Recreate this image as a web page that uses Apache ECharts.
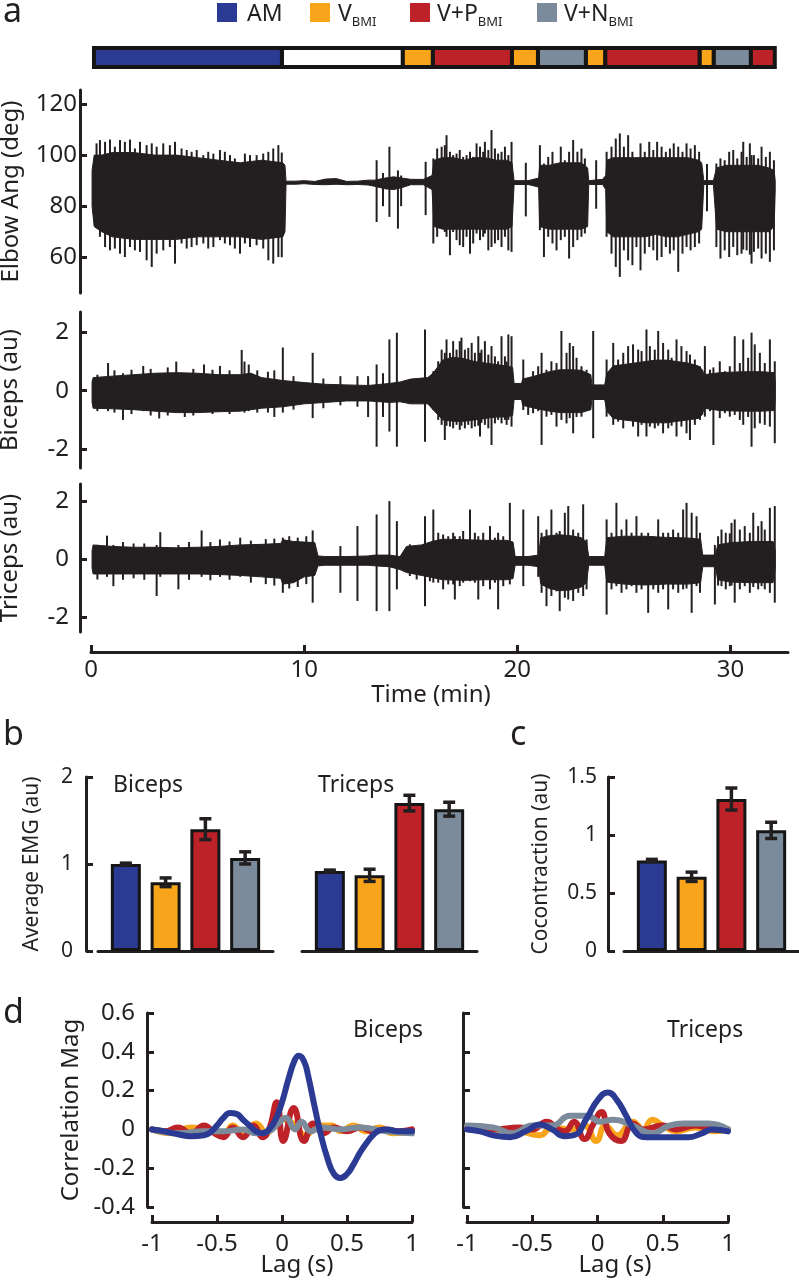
<!DOCTYPE html>
<html><head><meta charset="utf-8">
<script src="https://cdn.jsdelivr.net/npm/echarts@6/dist/echarts.min.js"></script>
<style>html,body{margin:0;padding:0;background:#fff}#c{width:799px;height:1280px}</style>
</head><body><div id="c"></div>
<script>
const INK = '#231f20';
const FONT = 'Noto Sans';

// ---------- conditions ----------
const condNames = ['AM', 'V', 'V+P', 'V+N', 'none'];
const condColors = ['#2b3a93', '#f9a51c', '#bc2228', '#7b8b9b', '#ffffff'];

// condition timeline (min)
const segStart = [0.14, 8.96, 14.63, 16.04, 19.75, 20.97, 23.22, 24.13, 28.56, 29.22, 30.96];
const segEnd   = [8.96, 14.63, 16.04, 19.75, 20.97, 23.22, 24.13, 28.56, 29.22, 30.96, 32.08];
const segCond  = ['AM', 'none', 'V', 'V+P', 'V', 'V+N', 'V', 'V+P', 'V', 'V+N', 'V+P'];

// ---------- panel a ticks ----------
const timeTicks = [0, 10, 20, 30];
const elbowTicks = [60, 80, 100, 120];
const emgTicks = [-2, 0, 2];

// solid part of each trace: [time(min), low, high]
const elbowEnv = [[0.05,80,94],[0.15,72,100],[0.5,70,100],[1,68,101],[2,67,101],[3,67,100],[4,67,100],[5,68,99],[6,68,98],[7,68,97],[8,67,98],[9,68,97],[9.1,70,96],[9.15,88.6,89.8],[9.6,88.6,89.8],[10,88.8,90],[10.5,88.5,89.7],[11,88.4,90.6],[11.5,88.6,90.8],[12,88.4,89.7],[12.5,88.5,89.8],[13,88.3,90.2],[13.3,87.8,90.2],[13.8,86.8,91],[14.2,86.5,91.5],[14.6,87.3,91],[15,88.4,90.5],[15.6,88.4,90.5],[16,86.5,92],[16.1,72,98],[16.5,71,99],[17,71,99],[17.5,71,98],[18,71,99],[18.5,71,99],[19,71,98],[19.5,71,98],[19.75,72,97],[19.85,88.5,90],[20.5,88.5,90],[21,87.5,91],[21.05,72,96],[21.5,71,96],[22,71,97],[22.5,71,97],[23,71,97],[23.3,72,95],[23.35,88.5,90],[24,88.5,90.5],[24.15,86.5,92],[24.2,70,98],[24.5,68,99],[25,68,99],[25.5,68,99],[26,68,99],[26.5,69,99],[27,68,99],[27.5,68,99],[28,69,99],[28.5,70,98],[28.65,71,97],[28.75,88.5,90],[29.2,88.5,90],[29.35,71,95],[29.8,70,96],[30.3,70,96],[30.8,70,96],[31.3,70,96],[31.8,70,95],[32.05,72,94],[32.1,86,90]];
// individual excursions: [time(min), low, high]
const elbowSpikes = [[0.26,71.9,104.6],[0.42,68,105.9],[0.66,64,105.2],[0.89,62.7,106.1],[1.12,63.4,103.3],[1.36,61.4,105.9],[1.59,60.1,105.2],[1.83,64,106.1],[2.06,62.7,102.6],[2.3,62.1,105.2],[2.61,58.8,103.9],[2.85,56.2,104.6],[3.08,61.4,103.3],[3.39,62.7,104.6],[3.7,64,103.9],[3.94,57.5,105.2],[4.25,65.4,102.6],[4.49,63.4,102],[4.72,64,101.3],[4.96,64.7,102],[5.27,65.4,100],[5.5,63.4,101.3],[5.74,64,100.6],[6.05,66.7,102],[6.28,65.4,101.3],[6.52,64.7,100],[6.75,63.4,98.7],[6.99,61.4,94.1],[7.22,65.4,100.6],[7.46,64,100],[7.77,64.7,100],[8.08,63.4,100.6],[8.32,58.8,101.3],[8.55,57.5,102.6],[8.79,60.1,103.9],[8.95,60,101],
  [13.4,73.8,98],[13.7,80,93],[14.0,75.8,103.3],[14.4,71.2,94],[14.55,80,92],[15.7,76.5,97.4],
  [16.06,65.4,98.7],[16.24,68,102.6],[16.45,71.9,103.3],[16.6,69.9,103.9],[16.68,68,107.8],[16.84,60.8,101.3],[16.99,69.9,100],[17.15,66.7,100.6],[17.3,64.7,102],[17.46,64,99.3],[17.62,68,100],[17.78,61.4,101.3],[17.93,65.4,99.3],[18.09,69.3,104.6],[18.25,66.7,103.3],[18.4,68,101.3],[18.48,69.3,105.2],[18.64,62.7,102],[18.79,64,109.8],[18.95,65.4,102.6],[19.1,66.7,100.6],[19.26,64,101.3],[19.42,68,103.3],[19.58,62.7,100],[19.73,62.1,105.2],
  [20.4,76,97],
  [21.06,70.6,103.9],[21.25,60.1,96.7],[21.45,68,99.3],[21.65,65.4,101.3],[21.84,62.7,96.7],[22.04,66.7,103.3],[22.23,68,98],[22.43,59.5,101.3],[22.62,64,105.9],[22.82,66.7,101.3],[23.01,68,102.6],[23.17,69.3,98.7],
  [23.7,79,98],
  [24.19,68,101.3],[24.42,61.4,103.3],[24.62,56.2,106.5],[24.81,52.3,108.5],[25.0,62.7,103.3],[25.2,58.8,107.8],[25.4,56.9,101.3],[25.59,64,98.7],[25.78,54.9,104.6],[25.98,61.4,101.3],[26.19,64,105.2],[26.38,62.7,102],[26.56,58.8,105.2],[26.77,60.1,103.3],[26.97,64,101.3],[27.16,61.4,102.6],[27.34,62.7,104.6],[27.55,54.3,103.3],[27.75,61.4,101.3],[27.94,64,104.6],[28.13,62.7,102.6],[28.33,64,103.9],[28.53,65.4,101.3],
  [28.9,78,96.5],
  [29.34,64,96.7],[29.53,59.5,98.7],[29.73,62.7,98],[29.94,60.1,101.3],[30.13,64,102],[30.32,60.8,98.7],[30.52,61.4,101.3],[30.6,63,105.2],[30.76,62.7,99.3],[30.91,61,104.6],[30.99,57.5,100],[31.1,62.1,100],[31.3,63.4,98.7],[31.46,59.5,103.3],[31.66,61.4,99.3],[31.85,58.2,101.3],[32.04,62.7,98]];

const bicepsEnv = [[0.05,-0.4,0.3],[0.1,-0.6,0.45],[1,-0.62,0.5],[2,-0.65,0.55],[3,-0.7,0.6],[4,-0.75,0.62],[5,-0.75,0.6],[6,-0.72,0.55],[7,-0.7,0.55],[7.5,-0.65,0.6],[8,-0.6,0.45],[9,-0.55,0.35],[10,-0.45,0.28],[11,-0.4,0.22],[12,-0.35,0.2],[13,-0.35,0.18],[14,-0.4,0.25],[14.5,-0.38,0.3],[15,-0.45,0.4],[15.8,-0.45,0.45],[16.05,-0.65,0.6],[16.5,-1.0,1.05],[17,-1.05,1.15],[17.5,-1.05,1.1],[18,-1.0,1.0],[18.5,-0.95,0.95],[19,-0.9,0.9],[19.5,-0.9,0.85],[19.78,-0.85,0.8],[19.85,-0.3,0.25],[20.2,-0.3,0.25],[20.25,-0.5,0.4],[20.8,-0.6,0.5],[21.5,-0.7,0.65],[22,-0.75,0.72],[22.5,-0.75,0.72],[23,-0.75,0.7],[23.45,-0.65,0.55],[23.5,-0.3,0.2],[24.1,-0.3,0.2],[24.2,-0.7,0.6],[24.5,-0.95,0.85],[25,-1.0,0.9],[25.5,-1.05,0.95],[26,-1.1,1.0],[26.5,-1.1,1.05],[27,-1.1,1.05],[27.5,-1.05,1.0],[28,-1.0,0.95],[28.5,-0.95,0.85],[28.7,-0.8,0.7],[28.75,-0.6,0.55],[29.5,-0.68,0.62],[30.5,-0.7,0.65],[31.5,-0.7,0.65],[32.05,-0.68,0.62],[32.1,-0.3,0.3]];
const bicepsSpikes = [[0.3,-0.7,0.55],[0.8,-0.7,0.95],[1.1,-0.75,0.7],[1.5,-1.0,0.6],[1.9,-0.8,0.72],[2.45,-0.7,0.85],[2.8,-0.85,0.75],[3.2,-0.95,0.6],[3.6,-0.85,0.8],[4.0,-0.75,1.0],[4.4,-0.9,0.6],[4.8,-0.85,0.75],[5.3,-0.7,0.9],[5.7,-0.8,0.72],[6.05,-0.7,0.85],[6.5,-0.8,0.7],[7.07,-0.6,1.4],[7.2,-0.75,1.0],[7.4,-0.7,0.9],[7.8,-0.75,0.7],[8.3,-0.75,0.65],[8.6,-0.9,0.7],[9.0,-0.75,1.48],[9.5,-0.65,0.5],[10.4,-0.94,1.3],[10.9,-0.6,0.42],[11.7,-0.5,0.5],[12.5,-0.55,0.5],[13.0,-0.9,0.5],[13.4,-1.92,0.9],[13.7,-0.9,0.6],[14.0,-1.4,1.76],[14.35,-1.92,1.99],[15.67,-1.75,2.1],
  [16.06,-0.66,0.67],[16.29,-1.0,1.01],[16.45,-1.17,1.41],[16.6,-1.69,1.3],[16.68,-1.2,1.76],[16.84,-1.23,1.3],[16.99,-1.29,1.7],[17.15,-1.17,1.41],[17.3,-1.34,1.7],[17.38,-1.2,1.82],[17.54,-1.29,1.41],[17.7,-1.17,1.47],[17.86,-1.29,1.64],[18.01,-1.23,1.3],[18.17,-1.2,1.87],[18.25,-1.57,1.3],[18.32,-1.1,1.41],[18.48,-1.17,1.7],[18.64,-1.29,1.24],[18.79,-1.86,1.53],[18.95,-1.12,1.18],[19.1,-1.0,1.01],[19.26,-1.12,1.87],[19.42,-1.0,1.18],[19.5,-1.17,1.0],[19.58,-1.0,1.93],[19.73,-1.23,1.87],
  [20.28,-0.66,1.07],[20.51,-0.83,0.38],[20.74,-0.77,0.67],[20.98,-0.7,0.84],[21.14,-1.86,1.3],[21.37,-0.89,0.72],[21.6,-0.83,1.01],[21.84,-1.23,0.95],[22.07,-1.0,2.05],[22.31,-1.12,1.3],[22.46,-0.94,1.64],[22.62,-1.46,1.53],[22.78,-0.9,1.13],[23.01,-0.89,0.84],[23.25,-0.66,0.72],[23.56,-1.63,2.05],
  [24.19,-0.89,1.07],[24.5,-1.17,1.64],[24.73,-1.06,1.07],[24.97,-1.29,1.3],[25.2,-0.94,1.53],[25.43,-1.23,1.59],[25.67,-1.57,1.41],[25.83,-1.17,1.36],[26.06,-1.57,2.1],[26.22,-1.23,1.53],[26.45,-1.29,1.41],[26.61,-1.2,2.05],[26.84,-1.46,1.64],[27.08,-1.29,1.41],[27.24,-1.2,1.13],[27.47,-1.57,1.76],[27.7,-1.23,1.53],[27.94,-1.46,1.36],[28.1,-1.69,1.24],[28.33,-1.17,1.07],[28.57,-1.0,0.84],
  [28.8,-0.89,1.53],[29.04,-0.7,0.72],[29.2,-1.86,0.8],[29.5,-0.94,1.01],[29.74,-0.77,0.67],[29.97,-0.89,0.84],[30.2,-0.83,1.87],[30.44,-1.0,0.95],[30.6,-1.17,1.76],[30.83,-0.9,1.13],[30.99,-1.92,1.99],[31.14,-1.29,1.59],[31.38,-1.12,1.3],[31.61,-1.17,0.95],[31.85,-1.23,1.76],[32.08,-1.8,1.01]];

const tricepsEnv = [[0.05,-0.3,0.3],[0.1,-0.5,0.5],[1,-0.5,0.45],[2,-0.5,0.42],[3,-0.5,0.42],[4,-0.5,0.4],[5,-0.5,0.42],[6,-0.52,0.45],[7,-0.55,0.5],[8,-0.6,0.52],[8.9,-0.65,0.55],[9.0,-0.85,0.68],[9.5,-0.8,0.62],[10.0,-0.6,0.6],[10.5,-0.55,0.58],[10.65,-0.22,0.12],[11,-0.2,0.1],[12,-0.2,0.1],[13,-0.2,0.12],[13.3,-0.22,0.15],[14,-0.25,0.15],[14.5,-0.35,0.1],[14.8,-0.45,0.45],[15.5,-0.55,0.5],[16,-0.62,0.62],[16.5,-0.7,0.7],[17.5,-0.72,0.68],[18.5,-0.7,0.66],[19.5,-0.7,0.66],[19.8,-0.66,0.6],[19.9,-0.2,0.1],[20.5,-0.2,0.1],[21.0,-0.25,0.15],[21.1,-0.85,0.75],[21.5,-1.0,0.82],[22,-1.08,0.85],[22.5,-1.05,0.82],[23.0,-0.95,0.75],[23.25,-0.8,0.6],[23.35,-0.2,0.1],[24.1,-0.2,0.1],[24.2,-0.78,0.75],[25,-0.85,0.8],[26,-0.88,0.8],[27,-0.85,0.76],[28,-0.85,0.74],[28.6,-0.8,0.7],[28.7,-0.25,0.15],[29.3,-0.25,0.15],[29.4,-0.7,0.5],[30,-0.78,0.58],[31,-0.8,0.62],[32,-0.8,0.62],[32.1,-0.3,0.3]];
const tricepsSpikes = [[0.3,-0.69,0.5],[0.75,-0.6,0.82],[1.05,-0.92,0.5],[1.5,-0.7,0.6],[2.0,-0.65,0.55],[2.5,-0.7,0.55],[3.08,-1.26,0.5],[3.25,-0.6,0.94],[4.1,-1.03,0.5],[4.6,-0.7,0.6],[5.19,-0.6,1.0],[5.6,-0.72,0.6],[6.05,-0.6,0.69],[6.5,-0.7,0.62],[7.0,-0.6,0.75],[7.5,-0.8,0.65],[8.2,-0.85,0.7],[8.6,-0.9,0.72],[9.0,-1.15,0.75],[9.3,-1.0,0.8],[9.7,-0.95,0.75],[10.1,-0.85,0.8],[10.4,-1.49,1.0],[11.7,-1.15,0.46],[12.5,-1.43,1.15],[13.4,-1.78,1.55],[14.0,-1.78,2.01],[14.35,-1.03,1.32],
  [14.96,-0.57,0.52],[15.28,-0.69,0.46],[15.67,-1.61,1.49],[15.9,-0.75,0.57],[16.06,-0.8,1.72],[16.29,-0.8,0.92],[16.52,-1.03,0.86],[16.76,-0.86,0.8],[16.99,-0.86,0.92],[17.07,-1.38,0.8],[17.3,-0.92,0.8],[17.46,-0.8,0.98],[17.78,-0.75,1.72],[18.01,-0.8,0.92],[18.17,-1.38,0.8],[18.4,-0.92,0.92],[18.72,-1.03,1.15],[18.95,-0.8,0.75],[19.1,-1.72,0.92],[19.34,-0.92,0.8],[19.65,-0.86,1.95],
  [20.28,-0.92,1.72],[20.98,-0.6,1.49],[21.14,-1.15,0.92],[21.37,-1.61,1.03],[21.6,-1.26,1.72],[21.84,-1.1,0.92],[21.99,-1.78,0.98],[22.23,-1.32,1.61],[22.39,-1.38,1.84],[22.62,-1.43,1.03],[22.86,-1.15,0.92],[23.09,-1.26,1.9],[23.25,-1.03,0.69],
  [24.19,-1.9,1.38],[24.42,-1.03,0.92],[24.65,-0.92,1.95],[24.89,-1.15,1.03],[25.12,-1.03,1.38],[25.36,-0.92,0.92],[25.59,-1.15,1.49],[25.83,-1.03,0.92],[26.14,-1.84,0.92],[26.38,-1.03,0.8],[26.61,-1.15,1.38],[26.84,-1.03,0.92],[27.08,-1.72,0.92],[27.31,-1.03,1.03],[27.55,-1.15,0.92],[27.78,-1.03,1.72],[27.94,-1.0,1.95],[28.18,-1.84,1.61],[28.41,-0.92,1.49],[28.57,-1.15,0.92],
  [29.27,-1.55,0.5],[29.42,-0.9,0.8],[29.58,-0.92,1.03],[29.78,-1.03,0.92],[29.97,-0.92,0.9],[30.05,-0.9,1.26],[30.2,-1.49,1.38],[30.44,-1.03,1.03],[30.67,-0.92,1.15],[30.91,-1.15,0.92],[31.07,-0.95,1.61],[31.3,-1.03,1.15],[31.46,-0.92,1.32],[31.61,-1.03,1.03],[31.85,-1.15,1.78],[32.08,-1.49,1.84]];

// ---------- panel b / c ----------
const barPos = [1, 2, 3, 4];
const bicepsEMG = [1.00, 0.79, 1.40, 1.07];
const bicepsErr = [0.01, 0.05, 0.12, 0.07];
const tricepsEMG = [0.92, 0.87, 1.70, 1.63];
const tricepsErr = [0.01, 0.07, 0.09, 0.08];
const cocon = [0.78, 0.64, 1.31, 1.04];
const coconErr = [0.01, 0.04, 0.095, 0.07];
const emgBarTicks = [0, 1, 2];
const coconTicks = [0, 0.5, 1, 1.5];

// ---------- panel d ----------
const lagTicks = [-1, -0.5, 0, 0.5, 1];
const corrTicks = [-0.4, -0.2, 0, 0.2, 0.4, 0.6];
const corrBicAM = [[-1,0],[-0.9,-0.01],[-0.8,-0.025],[-0.7,-0.035],[-0.6,-0.03],[-0.55,-0.015],[-0.5,0.02],[-0.45,0.06],[-0.4,0.085],[-0.35,0.08],[-0.3,0.05],[-0.25,0.02],[-0.2,-0.01],[-0.15,-0.02],[-0.1,0.0],[-0.05,0.05],[0,0.14],[0.05,0.26],[0.1,0.36],[0.13,0.38],[0.17,0.35],[0.2,0.28],[0.25,0.12],[0.3,-0.03],[0.35,-0.15],[0.4,-0.23],[0.45,-0.25],[0.5,-0.23],[0.55,-0.18],[0.6,-0.12],[0.65,-0.07],[0.7,-0.03],[0.75,-0.005],[0.8,0],[0.9,-0.01],[1,-0.01]];
const corrBicV = [[-1,0],[-0.85,-0.02],[-0.7,0.01],[-0.55,-0.01],[-0.45,-0.035],[-0.38,0.02],[-0.3,-0.02],[-0.2,0.03],[-0.12,-0.02],[-0.05,0.05],[0.03,0.05],[0.1,0.02],[0.18,-0.03],[0.28,0.02],[0.38,0.02],[0.45,-0.01],[0.55,0.02],[0.65,-0.01],[0.75,0.01],[0.85,-0.02],[1,-0.01]];
const corrBicVP = [[-1,0],[-0.9,-0.01],[-0.8,0.01],[-0.7,-0.02],[-0.6,0.02],[-0.52,-0.02],[-0.45,-0.04],[-0.38,0.01],[-0.3,-0.04],[-0.22,0.02],[-0.15,-0.04],[-0.1,0.0],[-0.04,0.14],[0.01,-0.06],[0.09,0.11],[0.17,-0.06],[0.24,0.03],[0.32,-0.02],[0.4,0.01],[0.5,-0.01],[0.6,0.01],[0.7,-0.01],[0.8,0],[0.9,-0.01],[1,0]];
const corrBicVN = [[-1,0],[-0.8,-0.02],[-0.6,-0.01],[-0.45,-0.01],[-0.3,0],[-0.2,-0.02],[-0.1,-0.01],[-0.03,0.03],[0.03,0.06],[0.1,0],[0.15,0.04],[0.22,-0.01],[0.3,0.01],[0.45,0],[0.6,0.01],[0.8,-0.01],[1,-0.02]];
const corrTriAM = [[-1,0],[-0.9,-0.01],[-0.8,-0.03],[-0.67,-0.04],[-0.55,-0.01],[-0.44,0.025],[-0.35,0],[-0.25,-0.035],[-0.18,-0.03],[-0.08,0.06],[0,0.15],[0.08,0.19],[0.15,0.15],[0.22,0.07],[0.3,-0.02],[0.38,-0.04],[0.5,-0.04],[0.7,-0.04],[0.8,-0.02],[0.88,0],[1,-0.01]];
const corrTriV = [[-1,0.01],[-0.8,0],[-0.6,-0.01],[-0.44,-0.03],[-0.35,0.01],[-0.2,0],[-0.1,0.02],[-0.01,-0.06],[0.06,0.02],[0.15,-0.03],[0.27,0.04],[0.35,0],[0.42,0.05],[0.5,0.02],[0.6,-0.01],[0.75,0.01],[0.9,-0.01],[1,0]];
const corrTriVP = [[-1,0.01],[-0.8,0],[-0.6,0.01],[-0.5,0],[-0.39,0.04],[-0.3,0],[-0.25,-0.01],[-0.18,0.04],[-0.1,-0.05],[-0.03,0.03],[0.03,0.09],[0.09,-0.02],[0.18,-0.06],[0.27,0.03],[0.35,0],[0.5,0.02],[0.6,0],[0.75,0.02],[0.9,0],[1,0]];
const corrTriVN = [[-1,0.02],[-0.8,0.01],[-0.65,-0.02],[-0.5,0.02],[-0.35,0.02],[-0.21,0.07],[-0.08,0.07],[0.02,0.04],[0.12,0.05],[0.27,0.02],[0.42,-0.02],[0.55,0.02],[0.66,0.03],[0.85,0.03],[1,0]];

// ---------- helpers ----------
function txt(size) { return { color: INK, fontFamily: FONT, fontSize: size }; }
function yAx(gi, min, max, ticks, o) {
  return {
    type: 'value', gridIndex: gi, min: min, max: max, offset: o.offset || 0,
    axisLine: { show: true, onZero: false, lineStyle: { color: INK, width: 3 } },
    axisTick: { show: true, inside: true, length: 7, customValues: ticks, lineStyle: { color: INK, width: 3 } },
    axisLabel: Object.assign({ show: o.labels !== false, customValues: ticks, margin: o.margin || 8 }, txt(o.fs || 24)),
    splitLine: { show: false },
    name: o.name || '', nameLocation: 'middle', nameGap: o.nameGap || 50, nameMoveOverlap: false,
    nameTextStyle: txt(o.fs || 24)
  };
}
function xHidden(gi, min, max) {
  return { type: 'value', gridIndex: gi, min: min, max: max, show: false };
}
function xBar(gi) {
  return { type: 'value', gridIndex: gi, min: 0.3, max: 4.7,
    axisLine: { show: true, onZero: false, lineStyle: { color: INK, width: 3 } },
    axisTick: { show: false }, axisLabel: { show: false }, splitLine: { show: false } };
}
function xLag(gi, padLeft) {
  return { type: 'value', gridIndex: gi, min: -1, max: 1, offset: 15,
    axisLine: { show: true, onZero: false, lineStyle: { color: INK, width: 3 } },
    axisTick: { show: true, inside: true, length: 7, customValues: lagTicks, lineStyle: { color: INK, width: 3 } },
    axisLabel: Object.assign({ customValues: lagTicks, margin: 10 }, txt(24)),
    splitLine: { show: false },
    name: 'Lag (s)', nameLocation: 'middle', nameGap: 31, nameMoveOverlap: false,
    nameTextStyle: Object.assign({ padding: [0, 0, 0, padLeft] }, txt(24)) };
}
function envRender(env) {
  return function (params, api) {
    if (params.dataIndex !== 0) return null;
    const pts = [];
    for (const p of env) pts.push(api.coord([p[0], p[2]]));
    for (let i = env.length - 1; i >= 0; i--) pts.push(api.coord([env[i][0], env[i][1]]));
    return { type: 'polygon', shape: { points: pts }, style: { fill: INK, stroke: INK, lineWidth: 1 } };
  };
}
function spikeRender(params, api) {
  const a = api.coord([api.value(0), api.value(1)]);
  const b = api.coord([api.value(0), api.value(2)]);
  return { type: 'line', shape: { x1: a[0], y1: a[1], x2: b[0], y2: b[1] }, style: { stroke: INK, lineWidth: 2 } };
}
function errRender(params, api) {
  const x = api.value(0);
  const a = api.coord([x, api.value(1)]);
  const b = api.coord([x, api.value(2)]);
  const w = 6;
  const st = { stroke: INK, lineWidth: 3.5 };
  return { type: 'group', children: [
    { type: 'line', shape: { x1: a[0], y1: a[1], x2: b[0], y2: b[1] }, style: st },
    { type: 'line', shape: { x1: a[0] - w, y1: a[1], x2: a[0] + w, y2: a[1] }, style: st },
    { type: 'line', shape: { x1: b[0] - w, y1: b[1], x2: b[0] + w, y2: b[1] }, style: st }
  ] };
}
function barSeries(gi, vals) {
  return { type: 'bar', xAxisIndex: gi, yAxisIndex: gi, barWidth: 30, silent: true,
    data: barPos.map((x, i) => ({ value: [x, vals[i]], itemStyle: { color: condColors[i] } })),
    itemStyle: { borderColor: '#151515', borderWidth: 3 } };
}
function errSeries(gi, vals, errs) {
  return { type: 'custom', xAxisIndex: gi, yAxisIndex: gi, silent: true, z: 5,
    data: barPos.map((x, i) => [x, vals[i] - errs[i], vals[i] + errs[i]]), renderItem: errRender };
}
function lineSeries(gi, data, color) {
  return { type: 'line', xAxisIndex: gi, yAxisIndex: gi, data: data, smooth: 0.5, showSymbol: false, silent: true,
    lineStyle: { color: color, width: 6, cap: 'round', join: 'round' } };
}
function traceSeries(gi, env, spikes) {
  return [
    { type: 'custom', xAxisIndex: gi, yAxisIndex: gi, silent: true, data: env, renderItem: envRender(env) },
    { type: 'custom', xAxisIndex: gi, yAxisIndex: gi, silent: true, data: spikes, renderItem: spikeRender }
  ];
}
function g(left, width, top, height) {
  return { left: left, width: width, top: top, height: height, outerBoundsMode: 'none', containLabel: false };
}
function legendText(x, main, sub) {
  const rich = { m: { fontSize: 23, fontFamily: FONT, fill: INK, lineHeight: 30 },
                 s: { fontSize: 13, fontFamily: FONT, fill: INK, verticalAlign: 'bottom' } };
  return { type: 'text', style: { x: x, y: 14, verticalAlign: 'middle',
    text: sub ? '{m|' + main + '}{s|' + sub + '}' : '{m|' + main + '}', rich: rich } };
}
function label(x, y, s, size) {
  return { type: 'text', style: { x: x, y: y, text: s, fill: INK, fontFamily: FONT, fontSize: size, verticalAlign: 'middle' } };
}

const segData = segStart.map((s, i) => [s, segEnd[i], condNames.indexOf(segCond[i])]);

const option = {
  animation: false,
  backgroundColor: '#ffffff',
  grid: [
    g(91, 697, 48, 19),     // 0 condition bar
    g(91, 697, 90, 203),    // 1 elbow
    g(91, 697, 312, 156),   // 2 biceps
    g(91, 697, 484, 148),   // 3 triceps
    g(98, 175, 777, 174),   // 4 b biceps
    g(302, 175, 777, 174),  // 5 b triceps
    g(624, 175, 777, 174),  // 6 c
    g(152, 260, 1013, 194), // 7 d biceps
    g(467, 261, 1013, 194)  // 8 d triceps
  ],
  xAxis: [
    xHidden(0, 0, 32.7),
    xHidden(1, 0, 32.7),
    xHidden(2, 0, 32.7),
    { type: 'value', gridIndex: 3, min: 0, max: 32.7, offset: 20,
      axisLine: { show: true, onZero: false, lineStyle: { color: INK, width: 3 } },
      axisTick: { show: true, inside: true, length: 7, customValues: timeTicks, lineStyle: { color: INK, width: 3 } },
      axisLabel: Object.assign({ customValues: timeTicks, margin: 6 }, txt(24)),
      splitLine: { show: false },
      name: 'Time (min)', nameLocation: 'middle', nameGap: 27,
      nameTextStyle: Object.assign({ padding: [0, 17, 0, 0] }, txt(24)) },
    xBar(4), xBar(5), xBar(6),
    xLag(7, 30),
    xLag(8, 35)
  ],
  yAxis: [
    { type: 'value', gridIndex: 0, min: 0, max: 1, show: false },
    yAx(1, 46, 125.5, elbowTicks, { offset: 11, margin: 3, name: 'Elbow Ang (deg)', nameGap: 57 }),
    yAx(2, -2.65, 2.7, emgTicks, { offset: 11, margin: 11, name: 'Biceps (au)', nameGap: 58 }),
    yAx(3, -2.5, 2.6, emgTicks, { offset: 11, margin: 11, name: 'Triceps (au)', nameGap: 58 }),
    yAx(4, 0, 2, emgBarTicks, { offset: 12, margin: 13, fs: 21, name: 'Average EMG (au)', nameGap: 43 }),
    { type: 'value', gridIndex: 5, min: 0, max: 2, show: false },
    yAx(6, 0, 1.5, coconTicks, { offset: 16, margin: 11, fs: 21, name: 'Cocontraction (au)', nameGap: 56 }),
    yAx(7, -0.4, 0.6, corrTicks, { offset: 5, margin: 12, name: 'Correlation Mag', nameGap: 64 }),
    yAx(8, -0.4, 0.6, corrTicks, { offset: 4, labels: false })
  ],
  series: [
    { type: 'custom', xAxisIndex: 0, yAxisIndex: 0, silent: true, data: segData,
      renderItem: function (params, api) {
        const p0 = api.coord([api.value(0), 1]);
        const p1 = api.coord([api.value(1), 0]);
        return { type: 'rect', shape: { x: p0[0], y: p0[1], width: p1[0] - p0[0], height: p1[1] - p0[1] },
          style: { fill: condColors[api.value(2)], stroke: '#151515', lineWidth: 4 } };
      } }
  ].concat(
    traceSeries(1, elbowEnv, elbowSpikes),
    traceSeries(2, bicepsEnv, bicepsSpikes),
    traceSeries(3, tricepsEnv, tricepsSpikes),
    [
      barSeries(4, bicepsEMG), errSeries(4, bicepsEMG, bicepsErr),
      barSeries(5, tricepsEMG), errSeries(5, tricepsEMG, tricepsErr),
      barSeries(6, cocon), errSeries(6, cocon, coconErr),
      lineSeries(7, corrBicV, condColors[1]),
      lineSeries(7, corrBicVP, condColors[2]),
      lineSeries(7, corrBicVN, condColors[3]),
      lineSeries(7, corrBicAM, condColors[0]),
      lineSeries(8, corrTriV, condColors[1]),
      lineSeries(8, corrTriVP, condColors[2]),
      lineSeries(8, corrTriVN, condColors[3]),
      lineSeries(8, corrTriAM, condColors[0])
    ]),
  graphic: [
    label(3, 12, 'a', 34),
    label(3, 735, 'b', 34),
    label(510, 735, 'c', 34),
    label(3, 1013, 'd', 34),
    label(113, 785, 'Biceps', 23),
    label(318, 785, 'Triceps', 23),
    label(353, 1030, 'Biceps', 23),
    label(667, 1030, 'Triceps', 23),
    { type: 'rect', shape: { x: 217, y: 3, width: 20, height: 19 }, style: { fill: condColors[0] } },
    { type: 'rect', shape: { x: 310, y: 3, width: 20, height: 19 }, style: { fill: condColors[1] } },
    { type: 'rect', shape: { x: 410, y: 3, width: 20, height: 19 }, style: { fill: condColors[2] } },
    { type: 'rect', shape: { x: 537, y: 3, width: 20, height: 19 }, style: { fill: condColors[3] } },
    legendText(247, 'AM'),
    legendText(338, 'V', 'BMI'),
    legendText(437, 'V+P', 'BMI'),
    legendText(564, 'V+N', 'BMI')
  ]
};

const chart = echarts.init(document.getElementById('c'), null, { renderer: 'canvas', width: 799, height: 1280 });
chart.setOption(option);
</script>
</body></html>
